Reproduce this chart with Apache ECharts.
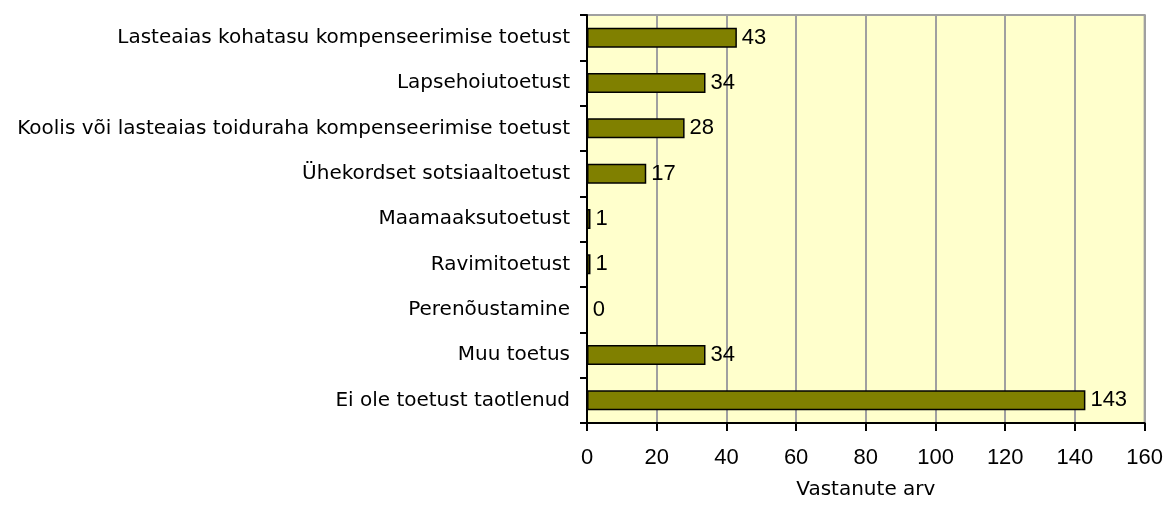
<!DOCTYPE html>
<html><head><meta charset="utf-8">
<script src="https://cdn.jsdelivr.net/npm/echarts@6/dist/echarts.min.js"></script>
<style>html,body{margin:0;padding:0;background:#fff;overflow:hidden}#c{width:1166px;height:505px}</style>
</head><body><div id="c"></div>
<script>
const categories = [
  "Lasteaias kohatasu kompenseerimise toetust",
  "Lapsehoiutoetust",
  "Koolis või lasteaias toiduraha kompenseerimise toetust",
  "Ühekordset sotsiaaltoetust",
  "Maamaaksutoetust",
  "Ravimitoetust",
  "Perenõustamine",
  "Muu toetus",
  "Ei ole toetust taotlenud"
];
const values = [43, 34, 28, 17, 1, 1, 0, 34, 143];
const xTicks = [0, 160, 20];
const xAxisName = "Vastanute arv";

const textFont = "'DejaVu Sans', Verdana, sans-serif";
const numFont = "'Liberation Sans', Arial, sans-serif";
const chart = echarts.init(document.getElementById('c'), null, {renderer: 'canvas', width: 1166, height: 505});
chart.setOption({
  animation: false,
  grid: {left: 587, right: 21, top: 15, bottom: 77, containLabel: false,
         show: true, backgroundColor: '#FFFFCC', borderColor: '#A0A0A0', borderWidth: 2},
  xAxis: {
    type: 'value', min: xTicks[0], max: xTicks[1], interval: xTicks[2],
    name: xAxisName, nameLocation: 'middle', nameGap: 57,
    nameTextStyle: {fontFamily: textFont, fontSize: 20, color: '#000'},
    axisLine: {show: true, lineStyle: {color: '#000', width: 2}},
    axisTick: {show: true, length: 8, lineStyle: {color: '#000', width: 2}},
    axisLabel: {fontFamily: numFont, fontSize: 22, color: '#000', margin: 24},
    splitLine: {show: true, lineStyle: {color: '#A0A0A0', width: 2}}
  },
  yAxis: {
    type: 'category', data: categories, inverse: true,
    axisLine: {show: true, lineStyle: {color: '#000', width: 2}},
    axisTick: {show: true, length: 7, lineStyle: {color: '#000', width: 2}},
    axisLabel: {fontFamily: textFont, fontSize: 20, color: '#000', margin: 17}
  },
  series: [{
    type: 'bar', data: values, barWidth: 20,
    itemStyle: {color: '#808000', borderColor: '#000', borderWidth: 1.5},
    label: {show: true, position: 'right', distance: 5, fontFamily: numFont, fontSize: 22, color: '#000'}
  }]
});
</script></body></html>
